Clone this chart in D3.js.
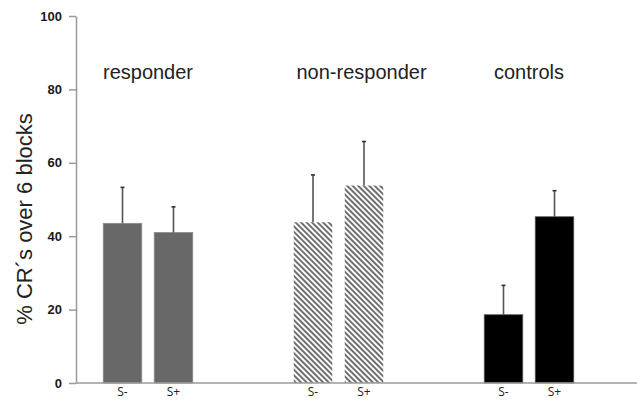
<!DOCTYPE html>
<html>
<head>
<meta charset="utf-8">
<script src="https://cdn.jsdelivr.net/npm/d3@7"></script>
<style>
  html, body { margin: 0; padding: 0; background: #fff; }
  svg { display: block; }
</style>
</head>
<body>
<svg id="chart" width="637" height="401"></svg>
<script>
// ---- data ----
const groups = ["responder", "non-responder", "controls"];
const conditions = ["S-", "S+"];
const responderMeans = [43.5, 41.0];
const responderErrors = [9.8, 7.0];
const nonResponderMeans = [43.8, 53.8];
const nonResponderErrors = [12.9, 12.0];
const controlMeans = [18.6, 45.3];
const controlErrors = [8.0, 7.1];
const yTicks = [0, 20, 40, 60, 80, 100];
const yLabel = "% CR´s over 6 blocks";

const seriesMeans = [responderMeans, nonResponderMeans, controlMeans];
const seriesErrors = [responderErrors, nonResponderErrors, controlErrors];
const rows = [];
groups.forEach((g, gi) => conditions.forEach((c, ci) => {
  rows.push({ group: g, cond: c, mean: seriesMeans[gi][ci], err: seriesErrors[gi][ci], gi });
}));

// ---- layout ----
const svg = d3.select("#chart");
const y = d3.scaleLinear().domain([0, 100]).range([383, 16]);
const xg = d3.scalePoint().domain(groups).range([148, 529]);
const xc = d3.scaleBand().domain(conditions).range([-44.75, 44.75]).paddingInner(0.245).paddingOuter(0);

// hatch pattern
const defs = svg.append("defs");
const pat = defs.append("pattern")
  .attr("id", "hatch")
  .attr("patternUnits", "userSpaceOnUse")
  .attr("width", 3.9).attr("height", 3.9)
  .attr("patternTransform", "rotate(-45)");
pat.append("rect").attr("width", 3.9).attr("height", 3.9).attr("fill", "#fff");
pat.append("line").attr("x1", 1).attr("x2", 1).attr("y1", 0).attr("y2", 3.9)
  .attr("stroke", "#6f6f6f").attr("stroke-width", 2);

const fills = ["#686868", "url(#hatch)", "#000"];
const strokes = ["#8a8a8a", "none", "#555"];

// bars
svg.append("g").selectAll("rect").data(rows).join("rect")
  .attr("x", d => xg(d.group) + xc(d.cond))
  .attr("width", xc.bandwidth())
  .attr("y", d => y(d.mean))
  .attr("height", d => y(0) - y(d.mean))
  .attr("fill", d => fills[d.gi])
  .attr("stroke", d => strokes[d.gi])
  .attr("stroke-width", 0.8);

// error bars
const eb = svg.append("g");
eb.selectAll("line.v").data(rows).join("line").attr("class", "v")
  .attr("x1", d => xg(d.group) + xc(d.cond) + xc.bandwidth() / 2)
  .attr("x2", d => xg(d.group) + xc(d.cond) + xc.bandwidth() / 2)
  .attr("y1", d => y(d.mean))
  .attr("y2", d => y(d.mean + d.err))
  .attr("stroke", "#555").attr("stroke-width", 1.6);
eb.selectAll("line.c").data(rows).join("line").attr("class", "c")
  .attr("x1", d => xg(d.group) + xc(d.cond) + xc.bandwidth() / 2 - 2)
  .attr("x2", d => xg(d.group) + xc(d.cond) + xc.bandwidth() / 2 + 2)
  .attr("y1", d => y(d.mean + d.err))
  .attr("y2", d => y(d.mean + d.err))
  .attr("stroke", "#333").attr("stroke-width", 1.6);

// y axis
const yAxis = svg.append("g").attr("transform", "translate(76,0)")
  .call(d3.axisLeft(y).tickValues(yTicks).tickSize(7).tickPadding(7).tickSizeOuter(0));
yAxis.select(".domain").attr("stroke", "#9a9a9a").attr("stroke-width", 1.5);
yAxis.selectAll(".tick line").attr("stroke", "#9a9a9a").attr("stroke-width", 1.5);
yAxis.selectAll(".tick text")
  .attr("font-family", "Liberation Sans, Arial, sans-serif")
  .attr("font-size", 13).attr("font-weight", "bold").attr("fill", "#1a1a1a");

// x baseline
svg.append("line")
  .attr("x1", 76).attr("x2", 637)
  .attr("y1", y(0)).attr("y2", y(0))
  .attr("stroke", "#9a9a9a").attr("stroke-width", 1.5);

// x condition labels
svg.append("g").selectAll("text").data(rows).join("text")
  .attr("x", d => xg(d.group) + xc(d.cond) + xc.bandwidth() / 2)
  .attr("y", 396)
  .attr("text-anchor", "middle")
  .attr("font-family", "Open Sans, sans-serif")
  .attr("font-size", 12)
  .attr("fill", "#222")
  .text(d => d.cond);

// group labels
const labelShift = { "responder": 0, "non-responder": 23, "controls": 0 };
svg.append("g").selectAll("text").data(groups).join("text")
  .attr("x", g => xg(g) + labelShift[g])
  .attr("y", 79)
  .attr("text-anchor", "middle")
  .attr("font-family", "Liberation Sans, Arial, sans-serif")
  .attr("font-size", 20)
  .attr("fill", "#222")
  .text(g => g);

// y label
svg.append("text")
  .attr("transform", "translate(32,219) rotate(-90)")
  .attr("text-anchor", "middle")
  .attr("font-family", "Liberation Sans, Arial, sans-serif")
  .attr("font-size", 22)
  .attr("fill", "#222")
  .text(yLabel);
</script>
</body>
</html>
